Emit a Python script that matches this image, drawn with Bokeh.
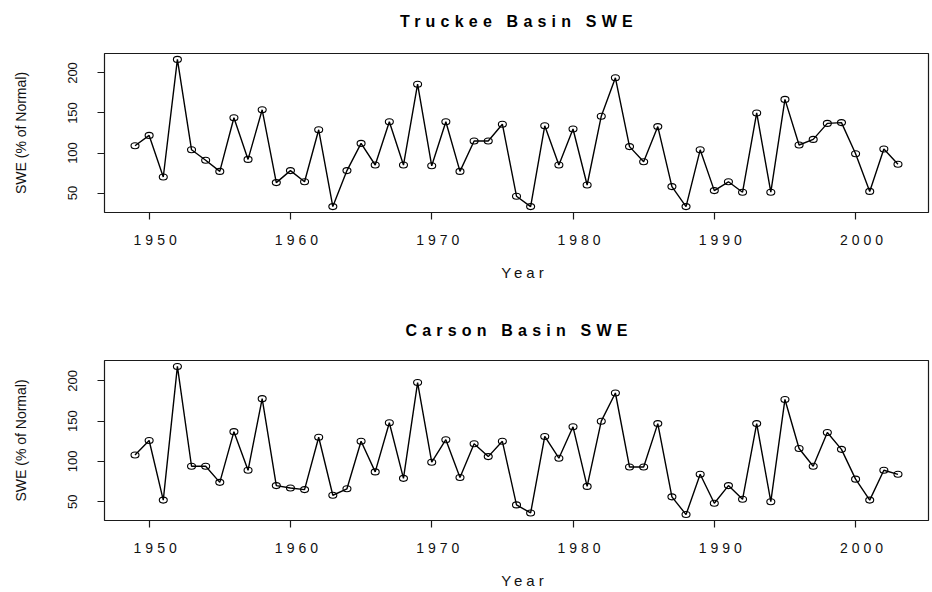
from bokeh.plotting import figure
from bokeh.layouts import column, row
from bokeh.models import ColumnDataSource, Range1d, FixedTicker, Div, CustomJSTickFormatter
from bokeh.embed import file_html
from bokeh.resources import INLINE

years = list(range(1949, 2004))

truckee = [109, 122, 70, 217, 104, 91, 77, 144, 92, 154,
           63, 78, 64, 129, 33, 78, 112, 85, 139, 85,
           186, 84, 139, 77, 115, 115, 136, 46, 33, 134,
           85, 130, 60, 146, 194, 108, 89, 133, 58, 33,
           104, 53, 64, 51, 150, 51, 167, 110, 117, 137,
           138, 99, 52, 105, 86]

carson = [108, 126, 52, 218, 94, 94, 74, 137, 89, 178,
          70, 67, 65, 130, 58, 66, 125, 87, 148, 79,
          198, 99, 127, 80, 122, 106, 125, 46, 36, 131,
          104, 143, 69, 150, 185, 93, 93, 147, 56, 34,
          84, 48, 70, 53, 147, 50, 177, 116, 94, 136,
          115, 78, 52, 89, 84]

x_ticks = [1950, 1960, 1970, 1980, 1990, 2000]
y_ticks = [50, 100, 150, 200]

FONT = "Liberation Sans"
INK = "#1a1a1a"

LABEL_W = 96      # strip holding the y tick labels and y title
PLOT_W = 836      # plot with box, ticks and x axis
FRAME_W = 824


def padded(vals, frac=0.04):
    lo, hi = min(vals), max(vals)
    pad = (hi - lo) * frac
    return Range1d(lo - pad, hi + pad)


def title_div(text, height, pad_top):
    html = (f'<div style="margin-left:{LABEL_W + 8 + 3}px; width:{FRAME_W}px; '
            f'text-align:center; padding-top:{pad_top}px; line-height:18px; '
            f"font-family:'{FONT}'; font-weight:bold; font-size:16px; "
            f'letter-spacing:5.2px; color:#000;">{text}</div>')
    return Div(text=html, width=932, height=height, margin=0)


def swe_panel(vals, border_top, frame_h, border_bottom):
    src = ColumnDataSource(dict(year=years, swe=vals))
    yr = padded(vals)
    h = border_top + frame_h + border_bottom

    # main plot: frame, series, ticks, x axis (spaced lettering like the device output)
    p = figure(width=PLOT_W, height=h, frame_width=FRAME_W, frame_height=frame_h,
               min_border_left=8, min_border_right=4,
               min_border_top=border_top, min_border_bottom=border_bottom,
               x_range=padded(years), y_range=yr,
               output_backend="svg", toolbar_location=None,
               styles={"letter-spacing": "4px"})

    p.line("year", "swe", source=src, line_color="black", line_width=1.4)
    p.ellipse("year", "swe", source=src, width=8, height=6,
              width_units="screen", height_units="screen",
              fill_color="white", fill_alpha=0.0,
              line_color="black", line_width=1.1)

    p.grid.visible = False
    p.outline_line_color = INK
    p.outline_line_width = 1.2

    xa = p.xaxis[0]
    xa.ticker = FixedTicker(ticks=x_ticks)
    xa.axis_line_color = None
    xa.major_tick_line_color = INK
    xa.major_tick_line_width = 1.2
    xa.major_tick_out = 7
    xa.major_tick_in = 0
    xa.minor_tick_line_color = None
    xa.major_label_text_font = FONT
    xa.major_label_text_font_size = "14px"
    xa.major_label_text_color = "#111111"
    xa.major_label_standoff = 15
    xa.axis_label = "Year"
    xa.axis_label_text_font = FONT
    xa.axis_label_text_font_size = "15px"
    xa.axis_label_text_font_style = "normal"
    xa.axis_label_text_color = "#111111"
    xa.axis_label_standoff = 16

    ya = p.yaxis[0]
    ya.ticker = FixedTicker(ticks=y_ticks)
    ya.formatter = CustomJSTickFormatter(code="return ''")
    ya.axis_line_color = None
    ya.major_tick_line_color = INK
    ya.major_tick_line_width = 1.2
    ya.major_tick_out = 7
    ya.major_tick_in = 0
    ya.minor_tick_line_color = None
    ya.major_label_standoff = 0
    ya.major_label_text_font_size = "1px"

    # left strip: y tick labels and y title, plain lettering
    q = figure(width=LABEL_W, height=h, frame_width=1, frame_height=frame_h,
               min_border_left=LABEL_W - 1, min_border_right=0,
               min_border_top=border_top, min_border_bottom=border_bottom,
               x_range=Range1d(0, 1), y_range=yr, x_axis_location=None,
               output_backend="svg", toolbar_location=None)
    q.grid.visible = False
    q.outline_line_color = None
    qa = q.yaxis[0]
    qa.ticker = FixedTicker(ticks=y_ticks)
    qa.axis_line_color = None
    qa.major_tick_line_color = None
    qa.major_tick_out = 0
    qa.major_tick_in = 0
    qa.minor_tick_line_color = None
    qa.major_label_orientation = "vertical"
    qa.major_label_text_font = FONT
    qa.major_label_text_font_size = "13px"
    qa.major_label_text_color = "#111111"
    qa.major_label_standoff = 18
    qa.axis_label = "SWE (% of Normal)"
    qa.axis_label_text_font = FONT
    qa.axis_label_text_font_size = "14px"
    qa.axis_label_text_font_style = "normal"
    qa.axis_label_text_color = "#111111"
    qa.axis_label_standoff = 37
    return row(q, p, spacing=0)


layout = column(
    title_div("Truckee Basin SWE", 40, 13),
    swe_panel(truckee, 13, 159, 84),
    title_div("Carson Basin SWE", 48, 26),
    swe_panel(carson, 16, 160, 72),
    spacing=0,
)
open("out.html", "w").write(file_html(layout, INLINE))
